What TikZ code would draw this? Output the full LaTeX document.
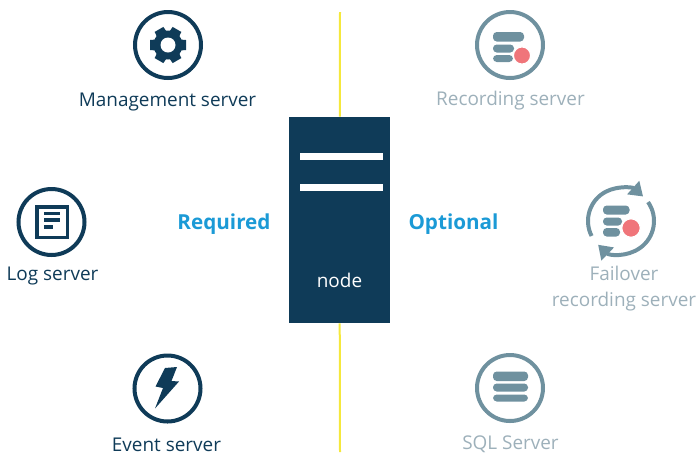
\documentclass[tikz,border=0pt]{standalone}
\usepackage{fontspec}
\setmainfont{Open Sans}
\usetikzlibrary{arrows.meta}
\definecolor{navy}{HTML}{0F3B58}
\definecolor{slate}{HTML}{6F919F}
\definecolor{paleslate}{HTML}{9DB0BA}
\definecolor{skyblue}{HTML}{1B9AD6}
\definecolor{linkyellow}{HTML}{F5E83C}
\definecolor{recred}{HTML}{F0757A}
\tikzset{
	navyring/.style = {draw = navy, circle, line width = 3pt, minimum size = 49.5pt, inner sep = 0pt},
	slatering/.style = {draw = slate, circle, line width = 3pt, minimum size = 49.5pt, inner sep = 0pt},
	navylabel/.style = {text = navy, font = \fontsize{14.2pt}{19.5pt}\selectfont, align = center},
	slatelabel/.style = {text = paleslate, font = \fontsize{14.2pt}{19.5pt}\selectfont, align = center},
	sidelabel/.style = {text = skyblue, font = \fontsize{15.5pt}{18pt}\selectfont\bfseries},
	disc/.style = {fill = slate, rounded corners = 2.8pt},
	recdot/.style = {circle, fill = recred, draw = white, line width = 1pt, inner sep = 0pt, minimum size = 14pt},
	turnarrow/.style = {draw = slate, line width = 3pt, -{Triangle[length = 10pt, width = 13pt]}}
}
\begin{document}
\begin{tikzpicture}[x = 0.75pt, y = -0.75pt]
	\useasboundingbox (0, 0) rectangle (700, 455);

	\coordinate (top) at (340, 12);
	\coordinate (bottom) at (340, 452);

	\node [draw = none, fill = navy, minimum width = 75.75pt, minimum height = 154.5pt, inner sep = 0pt] (box) at (339.5, 220) {};
	\draw [linkyellow, line width = 1.5pt] (top) -- (box);
	\draw [linkyellow, line width = 1.5pt] (box) -- (bottom);

	\fill [white] (300, 153) rectangle (383, 159.5);
	\fill [white] (300, 184) rectangle (383, 190.5);
	\node [text = white, font = \fontsize{14.2pt}{16pt}\selectfont] (nodelabel) at (339.5, 280) {node};

	\node [sidelabel] (required) at (224, 224) {Required};
	\node [sidelabel] (optional) at (453.5, 224) {Optional};

	% left side
	\node [navyring] (gear) at (168, 45) {};
	\node [navylabel] (gearlabel) at (167.5, 102) {Management server};

	\foreach \a in {30, 90, 150, 210, 270, 330} {
		\fill [navy, rotate around = {\a : (168, 45)}] (161.5, 45) -- (163, 27) -- (173, 27) -- (174.5, 45) -- cycle;
	}
	\fill [navy] (168, 45) circle [radius = 14.5];
	\fill [white] (168, 45) circle [radius = 7.5];

	\node [navyring] (log) at (51.5, 222) {};
	\node [navylabel] (loglabel) at (52.5, 276) {Log server};

	\draw [navy, line width = 2.3pt] (37, 207) rectangle (67.5, 237.5);
	\draw [navy, line width = 2.4pt] (44, 213.5) -- (60, 213.5);
	\draw [navy, line width = 2.4pt] (44, 220) -- (60, 220);
	\draw [navy, line width = 2.4pt] (44, 227) -- (52.5, 227);

	\node [navyring] (event) at (167.5, 388.5) {};
	\node [navylabel, outer sep = 0pt, inner sep = 1pt] (eventlabel) at (166.5, 444.5) {Event server};

	\fill [navy] (165, 368) -- (177, 367) -- (171.5, 381) -- (179, 381.5) -- (155, 408.5) -- (163, 388) -- (155.5, 386.5) -- cycle;

	% right side
	\node [slatering] (recording) at (510, 45) {};
	\node [slatelabel] (recordinglabel) at (510.5, 100.5) {Recording server};

	\fill [disc] (493, 32) rectangle (524, 41.5);
	\fill [disc] (493, 44.5) rectangle (514, 52.5);
	\fill [disc] (493, 55) rectangle (513, 62);
	\node [recdot, minimum size = 13pt] (recordingdot) at (522, 55.5) {};

	\coordinate (failover) at (621, 221);
	\node [slatelabel] (failoverlabel) at (624, 289) {Failover\\recording server};

	\draw [turnarrow] (failover) ++ (153 : 33) arc [start angle = 153, end angle = 312, radius = 33];
	\draw [turnarrow] (failover) ++ (325 : 33) arc [start angle = 325, end angle = 494, radius = 33];
	\fill [disc] (603, 205.5) rectangle (629.5, 214.5);
	\fill [disc] (603, 217.5) rectangle (622, 225.5);
	\fill [disc] (603, 228) rectangle (620, 236.5);
	\node [recdot] (failoverdot) at (631, 228) {};

	\node [slatering] (sql) at (510, 388) {};
	\node [slatelabel, outer sep = 0pt, inner sep = 1pt] (sqllabel) at (510.5, 444) {SQL Server};

	\fill [disc] (493, 371.5) rectangle (528, 381);
	\fill [disc] (493, 383.5) rectangle (528, 391.5);
	\fill [disc] (493, 394.5) rectangle (528, 401.5);
\end{tikzpicture}
\end{document}
